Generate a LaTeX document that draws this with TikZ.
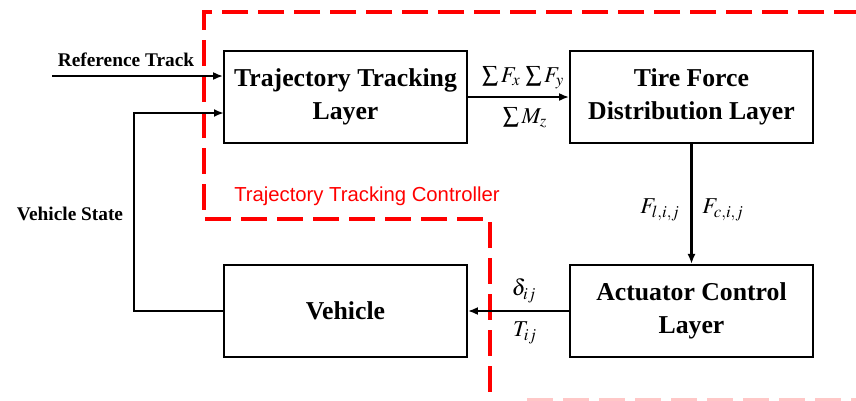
\documentclass[tikz,border=0pt]{standalone}
\usepackage{mathptmx}
\usepackage{fontspec}
\setmainfont{Liberation Serif}
\newfontfamily\ctrlfont{Liberation Sans}
\usetikzlibrary{arrows.meta}

\begin{document}
\begin{tikzpicture}[
      x=0.75pt, y=-0.75pt,
      layer/.style={draw, line width=1.6pt, inner sep=0pt, minimum width=182pt, minimum height=69pt, align=center, font=\fontsize{19.3}{25}\selectfont\bfseries},
      pfeil/.style={-{Latex[length=7.5pt, width=6pt]}, line width=1.8pt},
      grenze/.style={draw=red, line width=2.3pt, dash pattern=on 19.5pt off 7.5pt},
      sig/.style={font=\fontsize{17}{20}\selectfont, inner sep=0pt},
      lbl/.style={font=\fontsize{14.5}{17}\selectfont\bfseries, inner sep=1pt}
    ]
      \useasboundingbox (0,0) rectangle (856,400);
      % controller boundary
      \draw[grenze] (860,12) -- (204,12) -- (204,219) -- (490,219) -- (490,402);
      \draw[grenze, draw=red!22] (527,399.5) -- (860,399.5);
      \node[text=red, font=\ctrlfont\fontsize{15.2}{18}\selectfont] (ctrl) at (367,196) {Trajectory Tracking Controller};
      % layers
      \node[layer] (ttl) at (345.5,97) {Trajectory Tracking\\ Layer};
      \node[layer] (tfd) at (691.5,97) {Tire Force\\ Distribution Layer};
      \node[layer] (acl) at (691.5,311) {Actuator Control\\ Layer};
      \node[layer] (veh) at (345.5,311) {Vehicle};
      % inputs
      \coordinate (refin) at (52,76);
      \coordinate (statein) at (224,113);
      \draw[pfeil] (refin) -- (refin -| ttl.west);
      \node[lbl] (reflbl) at (126,60) {Reference Track};
      \draw[pfeil] (veh.west) -- ++(-89,0) |- (statein);
      \node[lbl] (statelbl) at (70,214) {Vehicle State};
      % signals
      \draw[pfeil] (ttl) -- (tfd);
      \node[sig] (fxy) at (523,78) {$\sum F_x\,\sum F_y$};
      \node[sig] (mz) at (525,118) {$\sum M_z$};
      \draw[pfeil] (tfd.south) -- (acl.north);
      \node[sig] (fl) at (660,210) {$F_{l,i,j}$};
      \node[sig] (fc) at (723,210) {$F_{c,i,j}$};
      \draw[pfeil] (acl) -- (veh);
      \node[sig] (dij) at (524,291) {$\delta_{ij}$};
      \node[sig] (tij) at (525,333) {$T_{ij}$};
    \end{tikzpicture}
\end{document}
